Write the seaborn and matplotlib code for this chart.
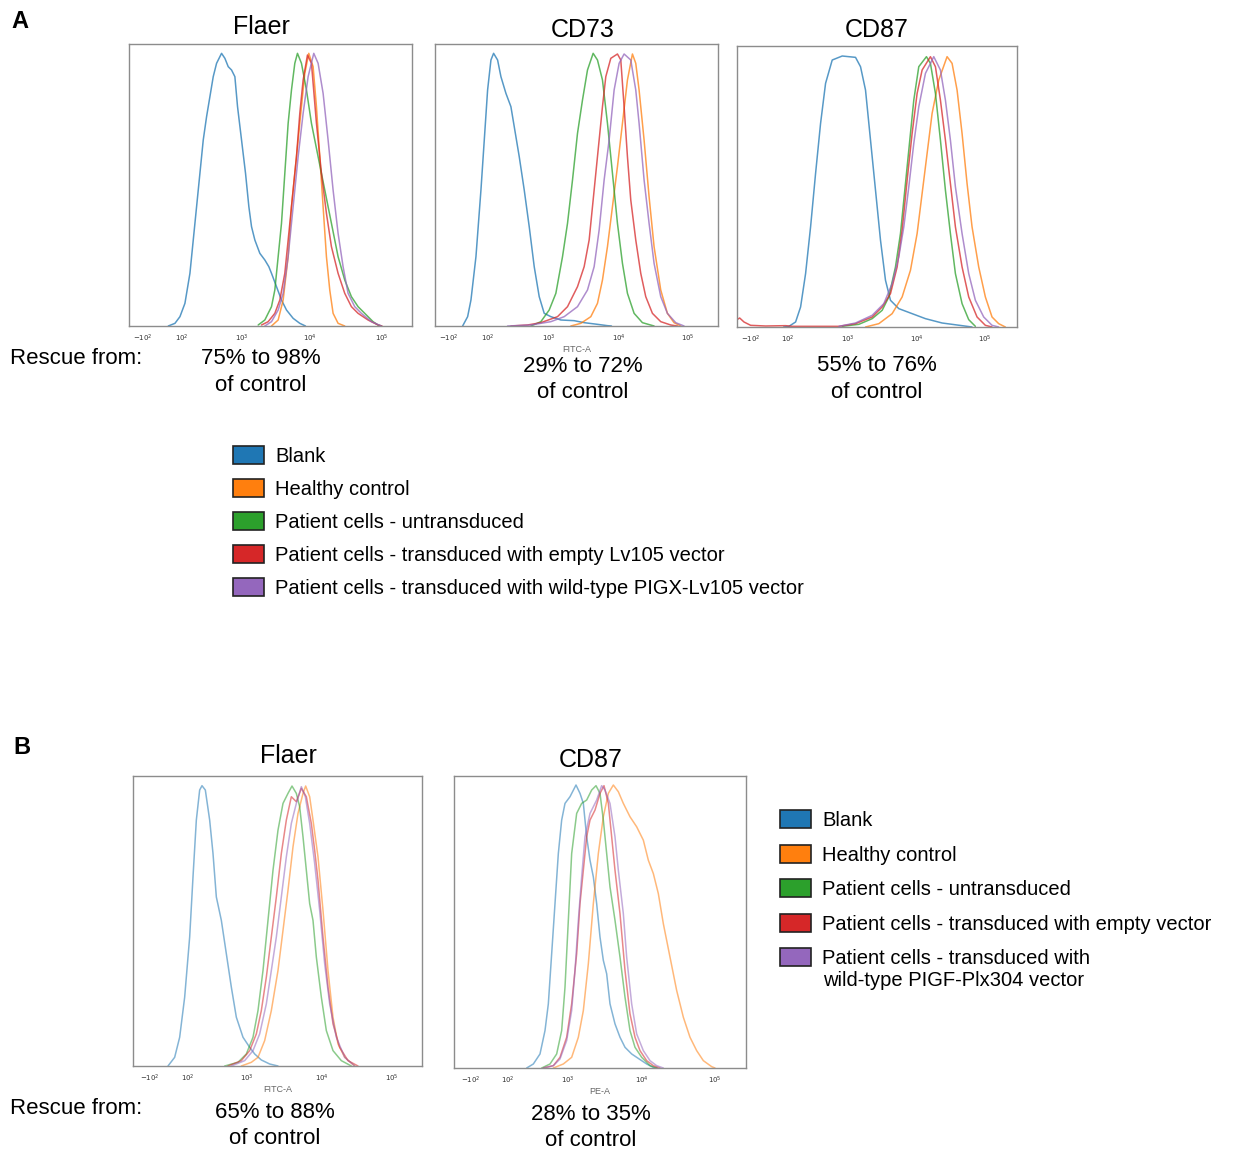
import numpy as np
import pandas as pd
import seaborn as sns
from matplotlib import pyplot as plt
from matplotlib.patches import Patch

sns.set_style("white")
plt.rcParams['font.family'] = ['Liberation Sans', 'DejaVu Sans']
plt.rcParams['text.color'] = 'black'

# sample keys and colours (same order as legends)
SAMPLES = ['blank', 'healthy', 'untransduced', 'empty', 'wildtype']
COLORS = ['#1f77b4', '#ff7f0e', '#2ca02c', '#d62728', '#9467bd']

LEGEND_A = ['Blank', 'Healthy control', 'Patient cells - untransduced',
            'Patient cells - transduced with empty Lv105 vector',
            'Patient cells - transduced with wild-type PIGX-Lv105 vector']
LEGEND_B = ['Blank', 'Healthy control', 'Patient cells - untransduced',
            'Patient cells - transduced with empty vector',
            'Patient cells - transduced with\nwild-type PIGF-Plx304 vector']

TICK_LABELS = [r'$-10^2$', r'$10^2$', r'$10^3$', r'$10^4$', r'$10^5$']

# histogram curves: (display channel, event count)
A_FLAER_BLANK = [(118, 0), (138, 8), (153, 28), (168, 68), (183, 158), (193, 258), (203, 358), (213, 458),
                 (223, 558), (233, 628), (243, 688), (253, 748), (263, 788), (278, 818), (288, 803), (298, 778),
                 (308, 768), (318, 748), (326, 658), (338, 558), (350, 458), (360, 358), (368, 298), (378, 258),
                 (393, 218), (408, 198), (420, 178), (428, 158), (443, 118), (458, 78), (473, 48), (493, 23),
                 (513, 8), (530, 0)]
A_FLAER_HEALTHY = [(428, 0), (448, 18), (463, 78), (478, 208), (488, 358), (498, 458), (508, 558), (518, 658),
                   (528, 758), (540, 818), (553, 778), (563, 658), (573, 508), (583, 358), (593, 208), (603, 108),
                   (613, 38), (628, 8), (648, 0)]
A_FLAER_UNTRANS = [(388, 3), (408, 18), (428, 58), (438, 108), (448, 208), (458, 308), (468, 458), (478, 608),
                   (488, 708), (498, 788), (506, 818), (518, 788), (533, 708), (548, 608), (568, 508), (588, 408),
                   (608, 308), (628, 208), (648, 138), (668, 88), (688, 58), (708, 38), (733, 13), (748, 3), (758, 0)]
A_FLAER_EMPTY = [(398, 3), (418, 13), (438, 38), (453, 78), (468, 158), (483, 308), (493, 408), (503, 508),
                 (513, 638), (523, 738), (536, 813), (548, 788), (563, 608), (578, 458), (593, 338), (608, 238),
                 (628, 158), (648, 98), (668, 58), (688, 38), (718, 18), (748, 3), (760, 0)]
A_FLAER_WT = [(408, 0), (428, 13), (448, 48), (463, 98), (478, 208), (493, 358), (508, 508), (523, 638),
              (538, 748), (555, 818), (568, 788), (583, 698), (598, 558), (613, 408), (628, 278), (643, 178),
              (658, 98), (678, 58), (698, 38), (728, 13), (758, 0)]

A_CD73_BLANK = [(83, 0), (98, 28), (108, 78), (123, 208), (138, 408), (148, 558), (158, 708), (168, 798),
                (176, 818), (188, 798), (198, 748), (213, 698), (228, 658), (238, 598), (253, 508), (268, 408),
                (283, 298), (298, 178), (313, 88), (328, 38), (348, 28), (378, 18), (418, 16), (448, 10),
                (488, 5), (518, 1), (530, 0)]
A_CD73_HEALTHY = [(408, 0), (438, 8), (468, 28), (488, 68), (503, 138), (518, 238), (533, 358), (548, 478),
                  (563, 608), (578, 738), (593, 816), (603, 788), (613, 708), (628, 558), (643, 388), (658, 238),
                  (678, 108), (698, 38), (718, 10), (738, 0)]
A_CD73_UNTRANS = [(288, 0), (318, 13), (343, 48), (363, 98), (383, 208), (398, 308), (413, 438), (428, 578),
                  (443, 678), (458, 768), (475, 818), (488, 798), (503, 738), (518, 608), (533, 458), (548, 308),
                  (563, 188), (578, 98), (598, 38), (623, 10), (658, 0)]
A_CD73_EMPTY = [(228, 0), (278, 3), (318, 10), (368, 28), (398, 58), (428, 118), (448, 178), (463, 258),
                (478, 408), (493, 558), (503, 658), (513, 748), (528, 803), (548, 816), (558, 798), (568, 658),
                (578, 508), (588, 378), (603, 258), (618, 158), (633, 88), (653, 38), (678, 13), (708, 3), (728, 0)]
A_CD73_WT = [(218, 0), (288, 3), (348, 13), (388, 28), (428, 58), (458, 108), (478, 178), (493, 288),
             (508, 438), (523, 558), (538, 708), (553, 788), (568, 816), (588, 798), (603, 708), (613, 608),
             (628, 438), (643, 308), (658, 188), (678, 88), (698, 38), (723, 10), (748, 0)]

A_CD87_BLANK = [(140, 0), (156, 2), (176, 15), (191, 60), (206, 160), (221, 300), (236, 460), (251, 610),
                (266, 730), (286, 800), (316, 812), (336, 810), (356, 808), (371, 780), (386, 710), (401, 560),
                (416, 410), (431, 260), (446, 140), (461, 80), (486, 55), (526, 40), (566, 25), (616, 12),
                (676, 4), (706, 0)]
A_CD87_HEALTHY = [(386, 0), (426, 10), (466, 40), (496, 90), (521, 170), (541, 280), (556, 400), (571, 520),
                  (586, 640), (606, 740), (631, 810), (646, 790), (661, 710), (676, 580), (691, 430), (706, 300),
                  (726, 180), (746, 90), (766, 30), (786, 10), (806, 0)]
A_CD87_UNTRANS = [(316, 2), (366, 8), (406, 25), (436, 50), (456, 90), (476, 180), (491, 280), (501, 380),
                  (516, 530), (531, 680), (546, 780), (569, 810), (581, 790), (596, 700), (611, 560), (626, 410),
                  (641, 280), (656, 160), (676, 70), (696, 22), (716, 2)]
A_CD87_EMPTY = [(0, 22), (8, 27), (21, 15), (41, 5), (86, 3), (146, 4), (166, 2), (306, 2), (356, 10),
                (406, 30), (436, 60), (461, 100), (481, 180), (496, 290), (511, 440), (526, 580), (541, 700),
                (556, 770), (581, 810), (596, 780), (611, 680), (626, 560), (641, 430), (656, 300), (676, 180),
                (696, 90), (721, 30), (746, 5), (766, 0)]
A_CD87_WT = [(306, 2), (356, 12), (406, 35), (441, 70), (466, 130), (486, 210), (501, 300), (516, 420),
             (531, 550), (546, 660), (566, 760), (591, 810), (611, 770), (626, 680), (641, 560), (656, 420),
             (676, 280), (696, 160), (716, 80), (741, 30), (766, 5), (786, 0)]

B_FLAER_BLANK = [(105, 0), (125, 26), (140, 86), (155, 206), (170, 386), (180, 566), (190, 736), (200, 826),
                 (207, 839), (217, 826), (230, 736), (240, 636), (250, 506), (265, 436), (280, 336), (295, 236),
                 (310, 146), (330, 86), (350, 56), (365, 36), (385, 18), (410, 6), (435, 0)]
B_FLAER_HEALTHY = [(325, 0), (355, 11), (375, 26), (395, 76), (415, 166), (435, 286), (450, 406), (465, 526),
                   (480, 656), (495, 756), (510, 816), (518, 838), (530, 806), (540, 736), (555, 626), (570, 466),
                   (585, 286), (600, 146), (615, 66), (635, 26), (665, 0)]
B_FLAER_UNTRANS = [(275, 0), (315, 11), (340, 36), (360, 86), (375, 166), (390, 286), (405, 436), (420, 586),
                   (435, 706), (450, 786), (465, 816), (477, 838), (490, 816), (500, 776), (510, 686), (520, 586),
                   (530, 486), (540, 436), (550, 326), (565, 206), (580, 106), (600, 46), (625, 16), (655, 0)]
B_FLAER_EMPTY = [(285, 0), (325, 16), (350, 46), (370, 96), (385, 166), (400, 266), (415, 386), (430, 506),
                 (445, 636), (460, 736), (475, 806), (490, 791), (505, 831), (520, 806), (535, 726), (545, 646),
                 (555, 556), (570, 386), (585, 236), (600, 126), (620, 56), (645, 16), (675, 0)]
B_FLAER_WT = [(295, 0), (335, 16), (360, 46), (380, 96), (400, 186), (415, 286), (430, 386), (445, 506),
              (460, 626), (475, 726), (490, 786), (505, 836), (517, 806), (530, 726), (545, 606), (560, 466),
              (575, 306), (590, 186), (610, 86), (635, 26), (665, 0)]

B_CD87_BLANK = [(218, 0), (238, 12), (258, 42), (273, 112), (283, 192), (293, 342), (303, 492), (313, 642),
                (323, 742), (333, 792), (348, 812), (366, 847), (378, 822), (388, 792), (398, 692), (408, 622),
                (418, 572), (428, 492), (438, 392), (448, 322), (458, 282), (468, 192), (483, 132), (498, 92),
                (513, 62), (533, 42), (548, 32), (563, 22), (578, 12), (598, 2), (610, 0)]
B_CD87_HEALTHY = [(298, 0), (328, 12), (353, 32), (373, 92), (388, 172), (403, 312), (418, 492), (433, 642),
                  (448, 752), (463, 822), (478, 847), (493, 827), (508, 792), (528, 752), (548, 722), (568, 682),
                  (583, 622), (598, 582), (613, 522), (628, 432), (648, 332), (668, 232), (688, 152), (708, 92),
                  (728, 52), (748, 22), (773, 4), (783, 0)]
B_CD87_UNTRANS = [(263, 0), (288, 12), (308, 42), (323, 112), (333, 242), (343, 442), (353, 642), (368, 762),
                  (383, 792), (398, 802), (413, 832), (426, 845), (438, 822), (448, 742), (458, 642), (468, 542),
                  (483, 442), (498, 332), (513, 212), (528, 112), (543, 62), (563, 32), (588, 7), (608, 0)]
B_CD87_EMPTY = [(268, 0), (298, 7), (318, 32), (338, 92), (353, 192), (368, 342), (378, 492), (388, 592),
                (398, 692), (408, 742), (423, 772), (438, 822), (450, 845), (463, 792), (473, 692), (483, 592),
                (498, 462), (513, 292), (528, 162), (543, 92), (558, 52), (578, 22), (598, 7), (618, 0)]
B_CD87_WT = [(268, 0), (298, 7), (318, 27), (338, 82), (353, 172), (363, 292), (373, 442), (383, 572),
             (393, 692), (408, 762), (428, 802), (443, 845), (453, 832), (468, 792), (483, 692), (493, 592),
             (508, 462), (518, 332), (533, 192), (548, 102), (568, 52), (588, 22), (608, 7), (628, 0)]


def curve_frame(curves):
    rows = []
    for key, pts in zip(SAMPLES, curves):
        for ch, n in pts:
            rows.append({'sample': key, 'channel': ch, 'count': n})
    return pd.DataFrame(rows)


def minor_positions(major, xmax):
    neg, p2, p3, p4, p5 = major
    pos = list(np.linspace(neg, p2, 14)[1:-1])
    for a, b in [(p2, p3), (p3, p4), (p4, p5)]:
        pos += [a + (b - a) * np.log10(k) for k in range(2, 10)]
    pos += [p5 + (p5 - p4) * np.log10(k) for k in range(2, 10)]
    pos += [neg - (p2 - neg) * 0.3]
    return [p for p in pos if 0 < p < xmax]


def histo(rect, curves, xmax, ymax, major, alpha, xlabel=None):
    ax = fig.add_axes(rect)
    df = curve_frame(curves)
    sns.lineplot(data=df, x='channel', y='count', hue='sample', hue_order=SAMPLES,
                 palette=dict(zip(SAMPLES, COLORS)), estimator=None, sort=False,
                 lw=1.1, alpha=alpha, legend=False, ax=ax)
    ax.set_xlim(0, xmax)
    ax.set_ylim(0, ymax)
    ax.set_yticks([])
    ax.set_xticks(major)
    ax.set_xticklabels(TICK_LABELS, fontsize=5, color='#333333')
    ax.set_xticks(minor_positions(major, xmax), minor=True)
    ax.tick_params(axis='x', which='major', direction='out', length=3.5, width=0.6, color='#666666', pad=1)
    ax.tick_params(axis='x', which='minor', direction='out', length=2, width=0.5, color='#666666')
    ax.set_ylabel('')
    if xlabel:
        ax.set_xlabel(xlabel, fontsize=6.5, color='#666666', labelpad=1)
    else:
        ax.set_xlabel('')
    for s in ax.spines.values():
        s.set_color('#8c8c8c')
        s.set_linewidth(1.0)
    return ax


W, H = 1233, 1151
fig = plt.figure(figsize=(W / 100, H / 100), dpi=100)


def box(x0, y0, x1, y1):
    return [x0 / W, 1 - y1 / H, (x1 - x0) / W, (y1 - y0) / H]


def label(x, y, s, **kw):
    kw.setdefault('fontsize', 16)
    kw.setdefault('ha', 'center')
    fig.text(x / W, 1 - (y + 2) / H, s, va='center', color='black', **kw)


# panel A
histo(box(129, 44, 412, 326),
      [A_FLAER_BLANK, A_FLAER_HEALTHY, A_FLAER_UNTRANS, A_FLAER_EMPTY, A_FLAER_WT],
      850, 846, [42, 159, 339, 543, 759], 0.75)
histo(box(435, 44, 718, 326),
      [A_CD73_BLANK, A_CD73_HEALTHY, A_CD73_UNTRANS, A_CD73_EMPTY, A_CD73_WT],
      850, 846, [42, 159, 342, 552, 759], 0.75, xlabel='FITC-A')
histo(box(737, 46, 1017, 327),
      [A_CD87_BLANK, A_CD87_HEALTHY, A_CD87_UNTRANS, A_CD87_EMPTY, A_CD87_WT],
      841, 842, [40, 154, 334, 541, 745], 0.75)

# panel B
histo(box(133, 776, 422, 1066),
      [B_FLAER_BLANK, B_FLAER_HEALTHY, B_FLAER_UNTRANS, B_FLAER_EMPTY, B_FLAER_WT],
      867, 868, [51, 165, 342, 567, 777], 0.55, xlabel='FITC-A')
histo(box(454, 776, 746, 1068),
      [B_CD87_BLANK, B_CD87_HEALTHY, B_CD87_UNTRANS, B_CD87_EMPTY, B_CD87_WT],
      876, 874, [51, 162, 342, 564, 783], 0.55, xlabel='PE-A')

# titles and annotations
label(20, 19, 'A', fontsize=17, fontweight='bold')
label(22, 746, 'B', fontsize=17, fontweight='bold')
label(261, 25, 'Flaer', fontsize=18)
label(583, 28, 'CD73', fontsize=18)
label(877, 28, 'CD87', fontsize=18)
label(288, 754, 'Flaer', fontsize=18)
label(591, 758, 'CD87', fontsize=18)

label(10, 357, 'Rescue from:', ha='left')
label(261, 357, '75% to 98%')
label(261, 384, 'of control')
label(583, 364, '29% to 72%')
label(583, 391, 'of control')
label(877, 363, '55% to 76%')
label(877, 390, 'of control')

label(10, 1106, 'Rescue from:', ha='left')
label(275, 1110, '65% to 88%')
label(275, 1137, 'of control')
label(591, 1113, '28% to 35%')
label(591, 1139, 'of control')


def legend(names, x, y, spacing):
    # first line of each name goes in the legend; wrapped lines sit underneath as text
    handles = [Patch(facecolor=c, edgecolor='#222222', lw=1.2, label=n.split('\n')[0])
               for c, n in zip(COLORS, names)]
    leg = fig.legend(handles=handles, loc='upper left', bbox_to_anchor=(x / W, 1 - y / H),
                     frameon=False, fontsize=14.5, handlelength=1.55, handleheight=1.0,
                     handletextpad=0.55, labelspacing=spacing, borderpad=0, borderaxespad=0)
    return leg


legend(LEGEND_A, 233, 446, 0.65)
legend(LEGEND_B, 780, 810, 0.73)
label(823, 979, LEGEND_B[-1].split('\n')[1], fontsize=14.5, ha='left')

plt.savefig("out.png", dpi=100)
